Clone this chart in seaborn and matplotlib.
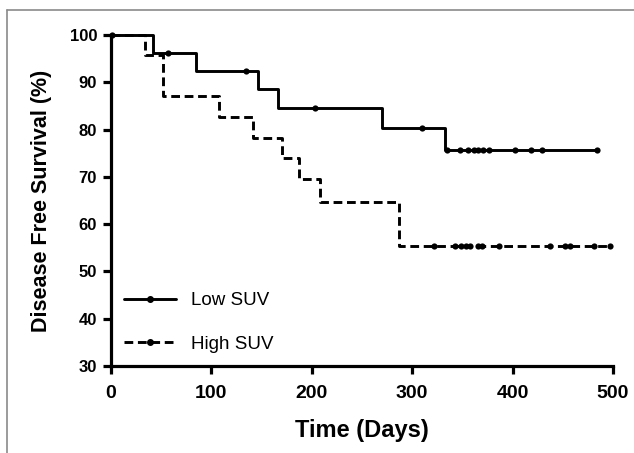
import numpy as np
import pandas as pd
import matplotlib
matplotlib.use("Agg")
import matplotlib.pyplot as plt
import seaborn as sns
from matplotlib.lines import Line2D

# ---- data ----
low_times = [0, 42, 85, 146, 166, 270, 333, 484]
low_surv = [100, 96.2, 92.3, 88.5, 84.6, 80.4, 75.7, 75.7]
low_censor = [1, 57, 134, 203, 310, 335, 348, 356, 362, 366, 371, 376, 402, 418, 429, 484]

high_times = [0, 34, 52, 108, 141, 170, 187, 208, 287, 497]
high_surv = [100, 95.7, 87.0, 82.6, 78.3, 73.9, 69.6, 64.6, 55.3, 55.3]
high_censor = [322, 343, 349, 354, 358, 366, 370, 386, 437, 452, 457, 481, 497]

groups = ["Low SUV", "High SUV"]
x_ticks = [0, 100, 200, 300, 400, 500]
y_ticks = [30, 40, 50, 60, 70, 80, 90, 100]


def step_value(times, surv, t):
    idx = np.searchsorted(times, t, side="right") - 1
    return np.asarray(surv)[idx]


sns.set_theme(style="white")
plt.rcParams["font.family"] = ["Liberation Sans", "DejaVu Sans"]
plt.rcParams["text.color"] = "black"
plt.rcParams["axes.labelcolor"] = "black"
plt.rcParams["xtick.color"] = "black"
plt.rcParams["ytick.color"] = "black"

fig = plt.figure(figsize=(6.34, 4.53), dpi=100)
ax = fig.add_axes([111 / 634, 1 - 366 / 453, 502 / 634, 331 / 453])

curves = pd.DataFrame({
    "t": low_times + high_times,
    "s": low_surv + high_surv,
    "g": [groups[0]] * len(low_times) + [groups[1]] * len(high_times),
})
cens = pd.DataFrame({
    "t": low_censor + high_censor,
    "s": list(step_value(low_times, low_surv, low_censor)) + list(step_value(high_times, high_surv, high_censor)),
    "g": [groups[0]] * len(low_censor) + [groups[1]] * len(high_censor),
})

dash_styles = {groups[0]: "-", groups[1]: (0, (3, 1.6))}
for g in groups:
    sub = curves[curves.g == g]
    sns.lineplot(data=sub, x="t", y="s", color="black", lw=2.1, drawstyle="steps-post",
                 estimator=None, sort=False, ax=ax, linestyle=dash_styles[g], clip_on=False,
                 legend=False)
sns.scatterplot(data=cens, x="t", y="s", color="black", s=20, marker="o", linewidth=0,
                ax=ax, legend=False, clip_on=False, zorder=5)

ax.set_xlim(0, 500)
ax.set_ylim(30, 100)
ax.set_xticks(x_ticks)
ax.set_yticks(y_ticks)
ax.set_xticklabels([str(v) for v in x_ticks], fontsize=14, fontweight="bold", color="black")
ax.set_yticklabels([str(v) for v in y_ticks], fontsize=12, fontweight="bold", color="black")
ax.set_xlabel("Time (Days)", fontsize=17, fontweight="bold", labelpad=12, color="black")
ax.set_ylabel("Disease Free Survival (%)", fontsize=15.5, fontweight="bold", labelpad=13, color="black")

for s in ["top", "right"]:
    ax.spines[s].set_visible(False)
for s in ["left", "bottom"]:
    ax.spines[s].set_linewidth(2.3)
    ax.spines[s].set_color("black")
ax.tick_params(axis="both", direction="out", length=6, width=2.3, color="black",
               bottom=True, left=True, pad=4, labelcolor="black")
ax.tick_params(axis="x", pad=8)

handles = [
    Line2D([], [], color="black", lw=2.1, linestyle="-", marker="o", markersize=4),
    Line2D([], [], color="black", lw=2.1, linestyle=(0, (3, 1.6)), marker="o", markersize=4),
]
leg = ax.legend(handles, groups, loc="lower left", bbox_to_anchor=(0.025, 0.04), frameon=False,
                fontsize=13.5, handlelength=2.8, handletextpad=0.8, labelspacing=1.4,
                borderpad=0, borderaxespad=0, numpoints=1)
for t in leg.get_texts():
    t.set_color("black")

# grey frame around figure (top and left edges)
fig.add_artist(Line2D([7 / 634, 1.0], [1 - 10 / 453, 1 - 10 / 453], color="#8a8a8a", lw=1.2))
fig.add_artist(Line2D([7 / 634, 7 / 634], [0.0, 1 - 10 / 453], color="#8a8a8a", lw=1.2))

fig.savefig("out.png", dpi=100)
